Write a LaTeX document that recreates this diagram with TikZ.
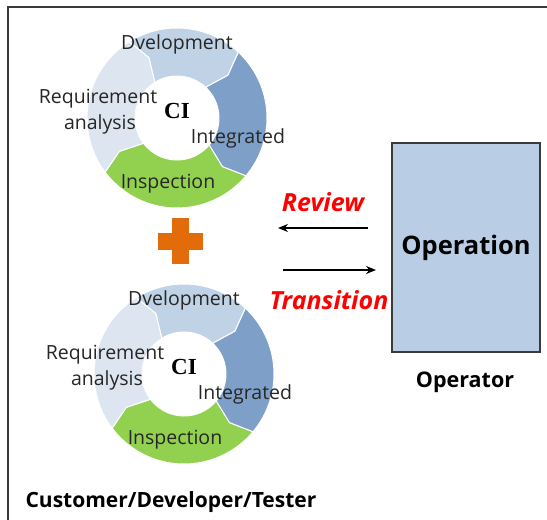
\documentclass[tikz,border=0pt]{standalone}
\usepackage{fontspec}
\setmainfont{Open Sans}
\newfontfamily\cifont{Liberation Serif}
\usetikzlibrary{arrows.meta}

\definecolor{reqc}{HTML}{DDE6F0}
\definecolor{devc}{HTML}{C0D2E6}
\definecolor{intc}{HTML}{7EA0C8}
\definecolor{insc}{HTML}{92D050}
\definecolor{plusc}{HTML}{E36C0A}
\definecolor{opfill}{HTML}{B9CDE5}
\definecolor{framec}{HTML}{3A3A3A}

\tikzset{
  seglabel/.style={font=\fontsize{19.5}{21}\selectfont, text=black!85, anchor=base, inner sep=0pt},
  cilabel/.style={font=\cifont\bfseries\fontsize{23}{25}\selectfont, anchor=base, inner sep=0pt},
  flowlabel/.style={font=\bfseries\itshape\fontsize{25}{27}\selectfont, text=red, inner sep=0pt},
  rolelabel/.style={font=\bfseries\fontsize{21.5}{23}\selectfont, inner sep=0pt},
  teamlabel/.style={font=\bfseries\fontsize{21}{23}\selectfont, inner sep=0pt},
  opbox/.style={draw=framec, line width=1.5pt, fill=opfill, minimum width=148pt,
    minimum height=209pt, inner sep=0pt, font=\bfseries\fontsize{25.5}{28}\selectfont},
  flowarrow/.style={line width=1.2pt, -{Stealth[length=10pt,width=8pt]}},
  ringseg/.style={draw=white, line width=1pt}
}

% one arrow-shaped ring segment, clockwise from angle #2 to angle #3
\newcommand\ringpiece[3]{%
  \fill[#1, ringseg] (#2:90) arc[start angle=#2, end angle=#3, radius=90]
    -- ({#3-7}:66.5) -- (#3:42) arc[start angle=#3, end angle=#2, radius=42]
    -- ({#2-7}:66.5) -- cycle;}

% the four-step CI cycle with its labels, centred at (#1,#2)
\newcommand\cicycle[3]{%
  \begin{scope}[shift={(#1,#2)}, yscale=-1]
    \ringpiece{devc}{122}{47}
    \ringpiece{intc}{47}{-40}
    \ringpiece{insc}{-40}{-143}
    \ringpiece{reqc}{-143}{-238}
  \end{scope}
  \node[seglabel] (#3dev) at (#1+0,#2-69) {Dvelopment};
  \node[seglabel] (#3req) at (#1-79,#2-15) {Requirement};
  \node[seglabel] (#3ana) at (#1-77,#2+11) {analysis};
  \node[cilabel]  (#3ci)  at (#1+0,#2+0) {CI};
  \node[seglabel] (#3int) at (#1+61,#2+25) {Integrated};
  \node[seglabel] (#3ins) at (#1-9,#2+70) {Inspection};
}

\begin{document}
\begin{tikzpicture}[x=1pt, y=-1pt]
  \useasboundingbox (0,0) rectangle (547,520);
  \fill[white] (0,0) rectangle (547,520);

  % frame (open on the right and at the bottom)
  \draw[framec, line width=1.5pt] (560,7) -- (8,7) -- (8,530);

  % two CI cycles
  \cicycle{177}{118}{top}
  \cicycle{184}{374}{bot}

  % plus sign between the cycles
  \fill[plusc] (172,218) rectangle (189,264);
  \fill[plusc] (158,233) rectangle (203,249.5);

  % operation side
  \node[opbox] (op) at (466,247.5) {Operation};
  \node[rolelabel] (operator) at (465,382) {Operator};
  \node[teamlabel] (team) at (171,502) {Customer/Developer/Tester};

  % review and transition flows
  \coordinate (revS) at (368,228);
  \coordinate (revE) at (278,228);
  \coordinate (trS) at (283,270);
  \coordinate (trE) at (376,270);
  \draw[flowarrow] (revS) -- (revE);
  \draw[flowarrow] (trS) -- (trE);
  \node[flowlabel] (review) at (323,202) {Review};
  \node[flowlabel] (transition) at (329,300) {Transition};
\end{tikzpicture}
\end{document}
